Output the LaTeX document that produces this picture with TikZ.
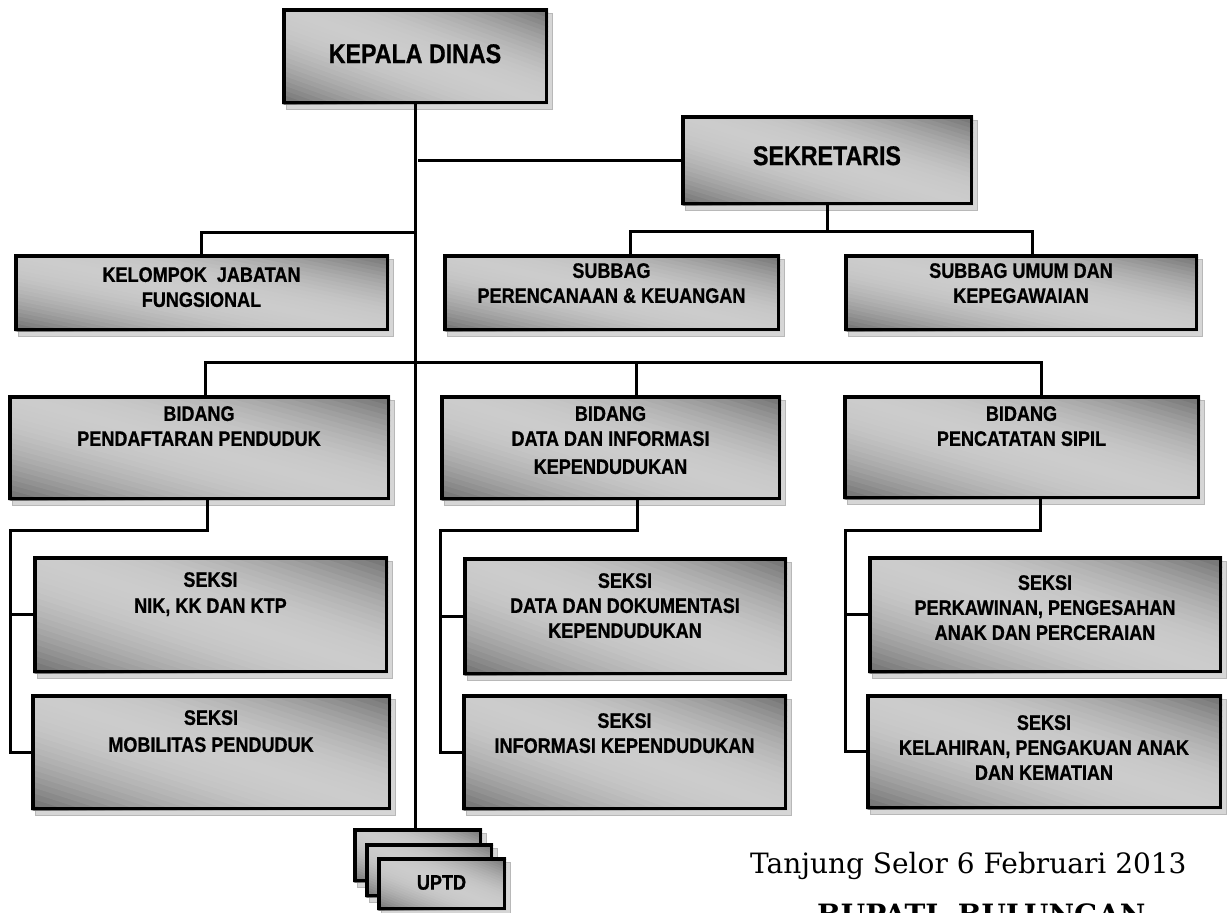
\documentclass[tikz,border=0pt]{standalone}
\usepackage{fontspec}
\newfontfamily\orgfont[FakeStretch=0.86, FakeBold=0.8]{Liberation Sans}
\newfontfamily\signfont{DejaVu Serif}

\definecolor{shadowfill}{gray}{0.84}
\definecolor{shadowedge}{gray}{0.72}

\tikzset{
  orgbox/.style={draw=black, line width=3.5pt, inner sep=0pt, outer sep=0pt},
  boxshadow/.style={fill=shadowfill, draw=shadowedge, line width=0.6pt},
  boxtext/.style={font=\orgfont\bfseries\fontsize{21}{25}\selectfont, align=center,
                  inner sep=0pt, anchor=north},
  bigtext/.style={font=\orgfont\bfseries\fontsize{27}{32}\selectfont},
  conn/.style={line width=3pt},
  signtext/.style={font=\signfont\fontsize{28}{34}\selectfont, inner sep=0pt, anchor=base west},
}

% grey fill, light along the top-left/bottom-right diagonal and darker
% towards the other two corners, built from thin diagonal strips
\newcommand\gradfill[4]{%
  \begin{scope}
    \clip (#1,#2) rectangle (#3,#4);
    \begin{scope}[shift={({(#1+#3)/2},{(#2+#4)/2})}, xscale={(#3-#1)/2}, yscale={-(#4-#2)/2}]
      \foreach \c in {-2,-1.9,...,1.95} {
        \pgfmathsetmacro\k{100*(0.20+0.38*((\c+0.05)/2)^2)}
        \fill[black!\k] (\c-3,3) -- (\c+3,-3) -- (\c+3.12,-3) -- (\c-2.88,3) -- cycle;
      }
    \end{scope}
  \end{scope}}

% frame with drop shadow: name, x1, y1, x2, y2 (outer edges)
\newcommand\orgframe[5]{%
  \draw[boxshadow] (#2+4,#3+5) rectangle (#4+4,#5+5);
  \gradfill{#2}{#3}{#4}{#5}%
  \node[orgbox, minimum width={(#4-#2-3.5)*1pt}, minimum height={(#5-#3-3.5)*1pt}]
    (#1) at ({(#2+#4)/2},{(#3+#5)/2}) {};
}
% frame plus its caption: [caption style], name, x1, y1, x2, y2, cap top, caption
\newcommand\orgunit[8][]{%
  \orgframe{#2}{#3}{#4}{#5}{#6}%
  \node[boxtext,#1] (#2-text) at ({(#3+#5)/2},#7) {#8};
}

\begin{document}
\begin{tikzpicture}[x=1pt,y=-1pt]
\useasboundingbox (0,0) rectangle (1227,913);

% units
\orgunit[bigtext]{kepala}{282}{8}{548}{104}{44}{KEPALA DINAS}
\orgunit[bigtext]{sekretaris}{681}{115}{973}{205}{146}{SEKRETARIS}
\orgunit{kelompok}{14}{254}{389}{331}{267}{KELOMPOK~~JABATAN\\FUNGSIONAL}
\orgunit{subbag1}{443}{254}{780}{331}{263}{SUBBAG\\PERENCANAAN \& KEUANGAN}
\orgunit{subbag2}{844}{254}{1198}{331}{263}{SUBBAG UMUM DAN\\KEPEGAWAIAN}
\orgunit{bid1}{8}{395}{390}{500}{406}{BIDANG\\PENDAFTARAN PENDUDUK}
\orgunit{bid2}{440}{395}{781}{500}{406}{BIDANG\\DATA DAN INFORMASI\\[3pt]KEPENDUDUKAN}
\orgunit{bid3}{843}{395}{1200}{499}{406}{BIDANG\\PENCATATAN SIPIL}
\orgunit{nik}{33}{556}{388}{673}{572}{SEKSI\\[1pt]NIK, KK DAN KTP}
\orgunit{mob}{31}{694}{391}{810}{710}{SEKSI\\[2pt]MOBILITAS PENDUDUK}
\orgunit{datadok}{463}{557}{787}{675}{573}{SEKSI\\DATA DAN DOKUMENTASI\\KEPENDUDUKAN}
\orgunit{info}{462}{694}{787}{810}{713}{SEKSI\\INFORMASI KEPENDUDUKAN}
\orgunit{kawin}{868}{556}{1222}{673}{575}{SEKSI\\PERKAWINAN, PENGESAHAN\\ANAK DAN PERCERAIAN}
\orgunit{lahir}{866}{694}{1222}{809}{715}{SEKSI\\KELAHIRAN, PENGAKUAN ANAK\\DAN KEMATIAN}

% stacked UPTD frames
\orgframe{uptda}{353}{828}{482}{882}
\orgframe{uptdb}{365}{843}{493}{897}
\orgunit{uptdc}{377}{857}{506}{910}{875}{UPTD}

% bus levels and drop positions
\coordinate (busS) at (0,231);
\coordinate (busA) at (0,232);
\coordinate (busB) at (0,362);
\coordinate (busL) at (0,530);
\coordinate (s1) at (630,0);
\coordinate (s2) at (1032,0);
\coordinate (d1) at (205,0);
\coordinate (d2) at (636,0);
\coordinate (d3) at (1041,0);
\coordinate (e1) at (207,0);
\coordinate (e2) at (637,0);
\coordinate (e3) at (1040,0);
\coordinate (v1) at (10,0);
\coordinate (v2) at (440,0);
\coordinate (v3) at (845,0);
\coordinate (sekjoin) at ([xshift=3pt]kepala.south |- sekretaris.west);

% trunk and staff links
\draw[conn] (kepala.south) -- (kepala.south |- uptda.north);
\draw[conn] (sekjoin) -- (sekretaris.west);
\draw[conn] (kelompok.north) -- (kelompok.north |- busA) -- (kepala.south |- busA);

% secretariat
\draw[conn] (sekretaris.south) -- (sekretaris.south |- busS);
\draw[conn] (s1 |- subbag1.north) -- (s1 |- busS) -- (s2 |- busS) -- (s2 |- subbag2.north);

% departments
\draw[conn] (d1 |- bid1.north) -- (d1 |- busB) -- (d3 |- busB) -- (d3 |- bid3.north);
\draw[conn] (d2 |- busB) -- (d2 |- bid2.north);

% sections
\draw[conn] (e1 |- bid1.south) -- (e1 |- busL) -- (v1 |- busL) -- (v1 |- mob.west) -- (mob.west);
\draw[conn] (v1 |- nik.west) -- (nik.west);
\draw[conn] (e2 |- bid2.south) -- (e2 |- busL) -- (v2 |- busL) -- (v2 |- info.west) -- (info.west);
\draw[conn] (v2 |- datadok.west) -- (datadok.west);
\draw[conn] (e3 |- bid3.south) -- (e3 |- busL) -- (v3 |- busL) -- (v3 |- lahir.west) -- (lahir.west);
\draw[conn] (v3 |- kawin.west) -- (kawin.west);

% place, date and signatory
\node[signtext] (place) at (750,873) {Tanjung Selor 6 Februari 2013};
\node[signtext, font=\signfont\bfseries\fontsize{28}{34}\selectfont] (signer) at (817,924) {BUPATI\ \ BULUNGAN};
\end{tikzpicture}
\end{document}
